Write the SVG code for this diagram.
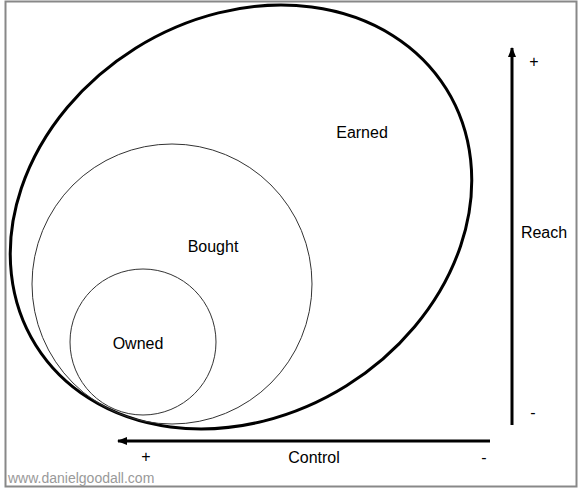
<svg xmlns="http://www.w3.org/2000/svg" width="580" height="491" viewBox="0 0 580 491">
<defs>
<style>
.lbl{font-family:"Liberation Sans",Arial,sans-serif;font-size:16px;fill:#000}
.thin{fill:none;stroke:#333;stroke-width:1}
.axis{fill:none;stroke:#000;stroke-width:3}
</style>
<marker id="ah" markerWidth="10" markerHeight="8" refX="9" refY="4" orient="auto" markerUnits="userSpaceOnUse">
<path d="M0,0 L10,4 L0,8 Z" fill="#000"/>
</marker>
</defs>
<rect x="0" y="0" width="580" height="491" fill="#fff"/>
<rect x="5.5" y="1.5" width="571" height="485" fill="none" stroke="#888" stroke-width="2"/>
<g id="earned">
<ellipse cx="241" cy="217" rx="242" ry="199" transform="rotate(-32 241 217)" fill="none" stroke="#000" stroke-width="3"/>
<text class="lbl" x="362" y="138" text-anchor="middle">Earned</text>
</g>
<g id="bought">
<circle class="thin" cx="172" cy="284" r="140"/>
<text class="lbl" x="213" y="252" text-anchor="middle">Bought</text>
</g>
<g id="owned">
<circle class="thin" cx="143" cy="342" r="73"/>
<text class="lbl" x="138" y="349" text-anchor="middle">Owned</text>
</g>
<g id="connectors">
<line class="axis" x1="512" y1="425" x2="512" y2="48" marker-end="url(#ah)"/>
<line class="axis" x1="490" y1="441" x2="118" y2="441" marker-end="url(#ah)"/>
</g>
<g id="labels">
<text class="lbl" x="544" y="238" text-anchor="middle">Reach</text>
<text class="lbl" x="534" y="67" text-anchor="middle" font-size="13">+</text>
<text class="lbl" x="533" y="418" text-anchor="middle" font-size="13">-</text>
<text class="lbl" x="314" y="463" text-anchor="middle">Control</text>
<text class="lbl" x="146" y="462" text-anchor="middle" font-size="13">+</text>
<text class="lbl" x="484" y="463" text-anchor="middle" font-size="13">-</text>
<text x="8" y="483" font-family="'Liberation Sans',Arial,sans-serif" font-size="14" fill="#999">www.danielgoodall.com</text>
</g>
</svg>
